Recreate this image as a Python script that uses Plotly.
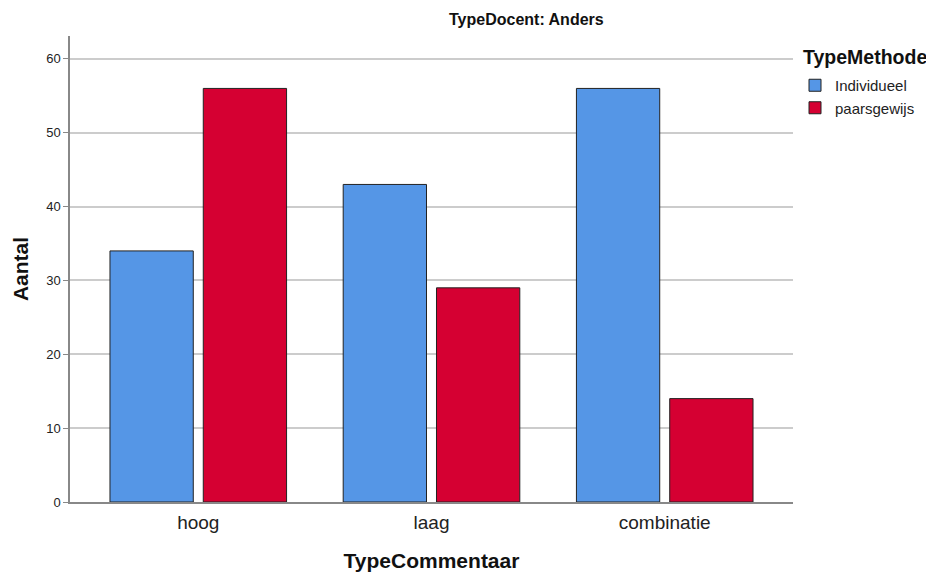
import plotly.graph_objects as go

categories = ["hoog", "laag", "combinatie"]
individueel = [34, 43, 56]
paarsgewijs = [56, 29, 14]
series_names = ["Individueel", "paarsgewijs"]
y_ticks = [0, 10, 20, 30, 40, 50, 60]

FONT = "Liberation Sans, Arial, sans-serif"

# page body has an 8px margin; figure coords = screen coords - 8
W, H = 926, 565
L, R, T, B = 62, 141, 28, 71
PW, PH = W - L - R, H - T - B

def px(xs):
    return (xs - 8 - L) / PW

def py(ys):
    return 1 - (ys - 8 - T) / PH

fig = go.Figure()
fig.add_trace(go.Bar(x=categories, y=individueel, name=series_names[0], legendgroup="a",
                     marker=dict(color="#5596E6", line=dict(color="#222222", width=1))))
fig.add_trace(go.Bar(x=categories, y=paarsgewijs, name=series_names[1], legendgroup="b",
                     marker=dict(color="#D50032", line=dict(color="#222222", width=1))))

fig.update_layout(
    width=W, height=H,
    paper_bgcolor="white", plot_bgcolor="white",
    margin=dict(l=L, r=R, t=T, b=B, autoexpand=False),
    barmode="group", bargap=0.2, bargroupgap=0.107,
    font=dict(family=FONT, color="#222222"),
    legend=dict(x=px(795), y=py(69), xanchor="left", yanchor="top",
                font=dict(size=15, color="#222222"), itemwidth=30,
                traceorder="grouped", tracegroupgap=0,
                bgcolor="rgba(0,0,0,0)"),
    showlegend=True,
)
fig.add_annotation(text="<b>TypeDocent: Anders</b>", xref="paper", yref="paper",
                   x=px(526), y=py(20), showarrow=False,
                   font=dict(size=16, color="#111111"), xanchor="center", yanchor="middle")
fig.add_annotation(text="<b>TypeMethode</b>", xref="paper", yref="paper",
                   x=px(801), y=py(57), showarrow=False,
                   font=dict(size=19.5, color="#111111"), xanchor="left", yanchor="middle")

fig.update_xaxes(
    range=[-0.55, 2.55],
    showline=True, linecolor="#888888", linewidth=1.5,
    ticks="", tickfont=dict(size=19, color="#222222"), ticklabelstandoff=2,
    title=dict(text="<b>TypeCommentaar</b>", font=dict(size=21, color="#111111"), standoff=22),
    showgrid=False,
)
fig.update_yaxes(
    range=[0, 63.1], tickvals=y_ticks,
    showline=True, linecolor="#888888", linewidth=1.5,
    ticks="outside", ticklen=5, tickcolor="#888888",
    tickfont=dict(size=13, color="#222222"),
    showgrid=True, gridcolor="#CCCCCC", gridwidth=1.5,
    zeroline=False,
    title=dict(text="<b>Aantal</b>", font=dict(size=21, color="#111111"), standoff=12),
)

fig.write_html("out.html")
